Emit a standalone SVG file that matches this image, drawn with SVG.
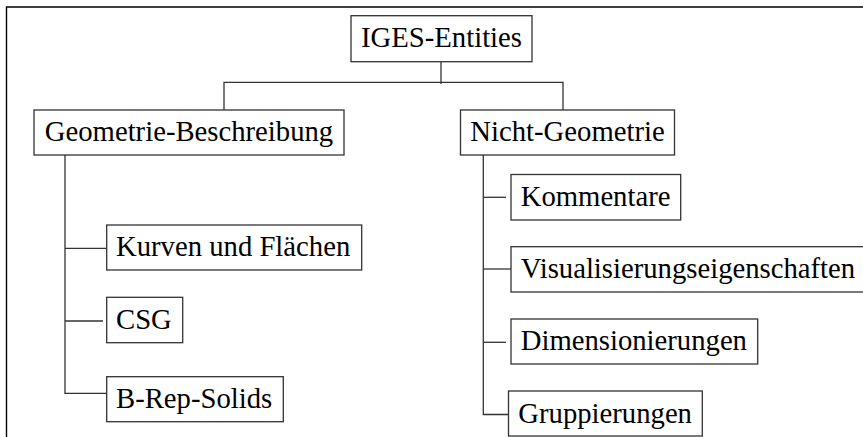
<svg xmlns="http://www.w3.org/2000/svg" width="863" height="437" viewBox="0 0 863 437">
  <style>
    .box { fill: #ffffff; stroke: #333333; stroke-width: 1.3; }
    .lbl { font-family: "Liberation Serif", "Times New Roman", serif; font-size: 28.7px; fill: #000000; }
    .mid { text-anchor: middle; }
    .con { fill: none; stroke: #333333; stroke-width: 1.3; }
    .frame { fill: none; stroke: #000000; stroke-width: 1.4; }
  </style>
  <rect x="0" y="0" width="863" height="437" fill="#ffffff"/>

  <!-- outer frame (open towards right and bottom) -->
  <path class="frame" d="M6.5,437 V7 H863"/>

  <!-- connectors -->
  <g id="connectors">
    <path class="con" d="M441,62 V84"/>
    <path class="con" d="M224,110 V82.3 H563 V110"/>
    <!-- left subtree -->
    <path class="con" d="M65,155 V394"/>
    <path class="con" d="M65,248.3 H107"/>
    <path class="con" d="M65,321 H103"/>
    <path class="con" d="M65,393.3 H107"/>
    <!-- right subtree -->
    <path class="con" d="M483.3,155 V414.5 H509"/>
    <path class="con" d="M483.3,197.3 H506"/>
    <path class="con" d="M483.3,269 H511"/>
    <path class="con" d="M483.3,342.3 H506"/>
  </g>

  <g id="iges-entities">
    <rect class="box" x="351" y="15.7" width="181" height="46"/>
    <text class="lbl mid" x="441.5" y="47">IGES-Entities</text>
  </g>

  <g id="geometrie-beschreibung">
    <rect class="box" x="34" y="110" width="310" height="45"/>
    <text class="lbl mid" x="189" y="141">Geometrie-Beschreibung</text>
  </g>

  <g id="nicht-geometrie">
    <rect class="box" x="460.5" y="110" width="214" height="45"/>
    <text class="lbl mid" x="567.5" y="141">Nicht-Geometrie</text>
  </g>

  <g id="kurven-und-flaechen">
    <rect class="box" x="106.7" y="225" width="255" height="45"/>
    <text class="lbl" x="116" y="256">Kurven und Flächen</text>
  </g>

  <g id="csg">
    <rect class="box" x="106.7" y="297.3" width="76" height="45.4"/>
    <text class="lbl" x="116" y="328.5">CSG</text>
  </g>

  <g id="b-rep-solids">
    <rect class="box" x="106.7" y="376.7" width="176.6" height="45"/>
    <text class="lbl" x="116" y="408">B-Rep-Solids</text>
  </g>

  <g id="kommentare">
    <rect class="box" x="511" y="174.5" width="169.7" height="45.5"/>
    <text class="lbl" x="520.7" y="205.5">Kommentare</text>
  </g>

  <g id="visualisierungseigenschaften">
    <rect class="box" x="511" y="246.7" width="360" height="45.3"/>
    <text class="lbl" x="520.7" y="277.5">Visualisierungseigenschaften</text>
  </g>

  <g id="dimensionierungen">
    <rect class="box" x="511" y="319" width="246.7" height="45"/>
    <text class="lbl" x="520.7" y="350">Dimensionierungen</text>
  </g>

  <g id="gruppierungen">
    <rect class="box" x="508.5" y="391" width="193.8" height="45"/>
    <text class="lbl" x="518.3" y="422.5">Gruppierungen</text>
  </g>
</svg>
